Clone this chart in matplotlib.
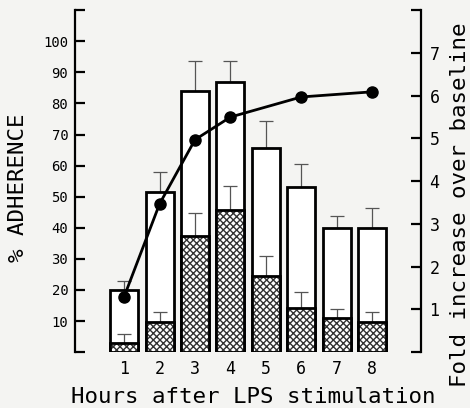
import matplotlib.pyplot as plt

# values
hours = [1, 2, 3, 4, 5, 6, 7, 8]
total = [20, 51.6, 84, 87, 65.8, 53, 40, 40]
total_err = [3, 6.4, 9.5, 6.5, 8.7, 7.6, 3.8, 6.5]
basal = [3, 9.7, 37.2, 45.6, 24.5, 14.2, 11, 9.8]
basal_err = [2.8, 3.2, 7.5, 7.9, 6.5, 5.2, 2.9, 3.2]
fold_hours = [1, 2, 3, 4, 6, 8]
fold = [1.3, 3.47, 4.97, 5.5, 5.97, 6.09]

plt.rcParams['font.family'] = ['DejaVu Sans Mono']
plt.rcParams['hatch.linewidth'] = 1.0
bg = '#f4f4f2'

fig = plt.figure(figsize=(4.7, 4.08), dpi=100, facecolor=bg)
ax = fig.add_axes([0.16, 0.137, 0.736, 0.838])
ax.set_facecolor('none')
w = 0.79

# open bars (total adherence)
ax.bar(hours, total, width=w, facecolor='white', edgecolor='black', linewidth=2, zorder=2)
ax.errorbar(hours, total, yerr=[[0] * 8, total_err], fmt='none', ecolor='#555555',
            elinewidth=0.9, capsize=5, capthick=0.9, zorder=1)

# hatched bars (baseline)
ax.bar(hours, basal, width=w, facecolor='white', edgecolor='#333333', hatch='xxxxx',
       linewidth=0, zorder=3)
ax.bar(hours, basal, width=w, fill=False, edgecolor='black', linewidth=2, zorder=4)
ax.errorbar(hours, basal, yerr=[[0] * 8, basal_err], fmt='none', ecolor='#555555',
            elinewidth=0.9, capsize=5, capthick=0.9, zorder=3)

ax.set_xlim(-0.383, 9.383)
ax.set_ylim(0, 110)
ax.set_yticks(range(0, 111, 10))
ax.set_yticklabels([''] + [str(v) for v in range(10, 101, 10)] + [''])
ax.set_xticks(hours)
ax.set_xticklabels([str(h) for h in hours], fontsize=12)
ax.tick_params(axis='x', length=0, pad=6)
ax.tick_params(axis='y', direction='in', length=7, width=1.6, labelsize=10, pad=5)
for s in ['top', 'bottom', 'right']:
    ax.spines[s].set_visible(False)
ax.spines['left'].set_linewidth(1.6)
ax.set_xlabel('Hours after LPS stimulation', fontsize=16.2, va='center')
ax.xaxis.set_label_coords(0.516, -0.132)
ax.set_ylabel('% ADHERENCE', fontsize=16.2, va='center')
ax.yaxis.set_label_coords(-0.165, 0.48)

# fold increase line on right axis
ax2 = ax.twinx()
ax2.plot(fold_hours, fold, color='black', linewidth=2, marker='o', markersize=8, zorder=5)
ax2.set_ylim(0, 8)
ax2.set_yticks(range(0, 9))
ax2.set_yticklabels([''] + [str(v) for v in range(1, 8)] + [''])
ax2.tick_params(axis='y', direction='in', length=7, width=1.6, labelsize=12, pad=6)
for s in ['top', 'bottom', 'left']:
    ax2.spines[s].set_visible(False)
ax2.spines['right'].set_linewidth(1.6)
ax2.set_ylabel('Fold increase over baseline', fontsize=16.2, va='center')
ax2.yaxis.set_label_coords(1.113, 0.43)

fig.savefig('out.png', dpi=100, facecolor=bg)
